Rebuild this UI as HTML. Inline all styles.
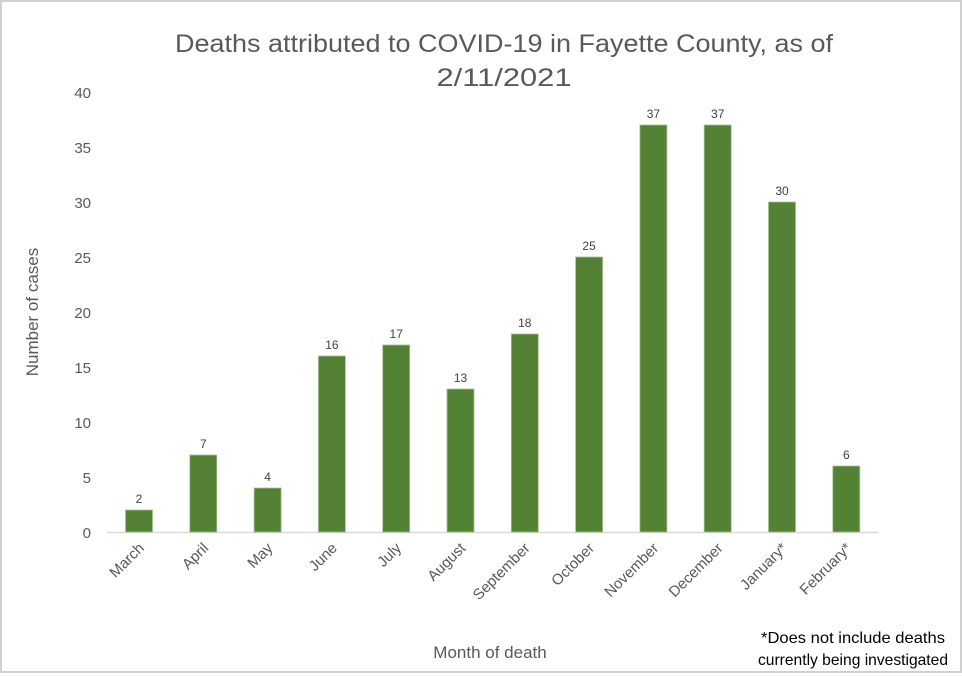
<!DOCTYPE html>
<html><head><style>html,body{margin:0;padding:0;background:#fff}</style></head>
<body>
<svg width="962" height="673" viewBox="0 0 962 673" xmlns="http://www.w3.org/2000/svg" font-family="Liberation Sans, sans-serif">
<rect x="1" y="1" width="960" height="671" fill="#fff" stroke="#d0d0d0" stroke-width="2"/>
<g fill="#595959" font-size="25">
<text x="504" y="52" text-anchor="middle" textLength="658" lengthAdjust="spacingAndGlyphs">Deaths attributed to COVID-19 in Fayette County, as of</text>
<text x="504" y="86" text-anchor="middle" textLength="135" lengthAdjust="spacingAndGlyphs">2/11/2021</text>
</g>
<g fill="#595959" font-size="15" text-anchor="end">
<text x="91" y="538">0</text><text x="91" y="483">5</text><text x="91" y="428">10</text><text x="91" y="373">15</text><text x="91" y="318">20</text><text x="91" y="263">25</text><text x="91" y="208">30</text><text x="91" y="153">35</text><text x="91" y="98">40</text>
</g>
<text transform="translate(38,312) rotate(-90)" text-anchor="middle" fill="#595959" font-size="17">Number of cases</text>
<line x1="107" y1="532.5" x2="878" y2="532.5" stroke="#d9d9d9" stroke-width="1.5"/>
<g fill="#548235" stroke="#a9c08f" stroke-width="0.8">
<rect x="125.5" y="510" width="27" height="22"/>
<rect x="189.8" y="455" width="27" height="77"/>
<rect x="254.1" y="488" width="27" height="44"/>
<rect x="318.4" y="356" width="27" height="176"/>
<rect x="382.7" y="345" width="27" height="187"/>
<rect x="447" y="389" width="27" height="143"/>
<rect x="511.3" y="334" width="27" height="198"/>
<rect x="575.6" y="257" width="27" height="275"/>
<rect x="639.9" y="125" width="27" height="407"/>
<rect x="704.2" y="125" width="27" height="407"/>
<rect x="768.5" y="202" width="27" height="330"/>
<rect x="832.8" y="466" width="27" height="66"/>
</g>
<g fill="#404040" font-size="12" text-anchor="middle">
<text x="139" y="503">2</text><text x="203.3" y="448">7</text><text x="267.6" y="481">4</text><text x="331.9" y="349">16</text><text x="396.2" y="338">17</text><text x="460.5" y="382">13</text><text x="524.8" y="327">18</text><text x="589.1" y="250">25</text><text x="653.4" y="118">37</text><text x="717.7" y="118">37</text><text x="782" y="195">30</text><text x="846.3" y="459">6</text>
</g>
<g fill="#595959" font-size="15" text-anchor="end">
<text transform="translate(145,549) rotate(-45)">March</text>
<text transform="translate(209.3,549) rotate(-45)">April</text>
<text transform="translate(273.6,549) rotate(-45)">May</text>
<text transform="translate(337.9,549) rotate(-45)">June</text>
<text transform="translate(402.2,549) rotate(-45)">July</text>
<text transform="translate(466.5,549) rotate(-45)">August</text>
<text transform="translate(530.8,549) rotate(-45)">September</text>
<text transform="translate(595.1,549) rotate(-45)">October</text>
<text transform="translate(659.4,549) rotate(-45)">November</text>
<text transform="translate(723.7,549) rotate(-45)">December</text>
<text transform="translate(788,549) rotate(-45)">January*</text>
<text transform="translate(852.3,549) rotate(-45)">February*</text>
</g>
<text x="490" y="658" text-anchor="middle" fill="#595959" font-size="17">Month of death</text>
<g fill="#000" font-size="16" text-anchor="middle">
<text x="853" y="643" textLength="184" lengthAdjust="spacingAndGlyphs">*Does not include deaths</text>
<text x="853" y="665" textLength="190" lengthAdjust="spacingAndGlyphs">currently being investigated</text>
</g>
</svg>
</body></html>
